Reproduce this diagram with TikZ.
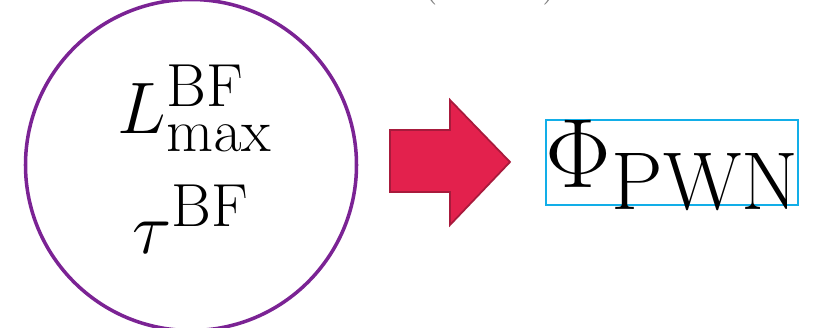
\documentclass[tikz,border=0pt]{standalone}
\usetikzlibrary{calc, positioning}

\begin{document}
\begin{tikzpicture}[scale=1, transform shape]
    % Define colours
    \definecolor{circleColour}{HTML}{7B2394}
    \definecolor{arrowFill}{HTML}{E3214D}
    \definecolor{arrowBorder}{HTML}{A81A3C}
    \definecolor{boxColour}{HTML}{12AEE8}

    % Fix the frame
    \useasboundingbox (0,0) rectangle (16.3,6.56);

    % Clipped label above
    \node[anchor=south, inner sep=0pt, text=gray, scale=2.2] (top) at (9.8,6.44) {$(\hspace{0.95cm})$};

    % Draw the circle with the parameters
    \node[draw=circleColour, line width=2pt, circle, minimum size=6.62cm] (params) at (3.82,3.26) {};
    \node[scale=1.67] (lmax) at (3.9,4.4) {\Huge $L^{\mathrm{BF}}_{\max}$};
    \node[scale=1.67] (tau) at (3.82,2.18) {\Huge $\tau^{\mathrm{BF}}$};

    % Define coordinates for the arrow
    \coordinate (A) at (7.8,2.72);
    \coordinate (B) at (7.8,3.96);
    \coordinate (C) at (9.0,3.96);
    \coordinate (D) at (9.0,4.56);
    \coordinate (E) at (10.2,3.32);
    \coordinate (F) at (9.0,2.06);
    \coordinate (G) at (9.0,2.72);

    % Draw the arrow
    \filldraw[fill=arrowFill, draw=arrowBorder, line width=1pt] (A) -- (B) -- (C) -- (D) -- (E) -- (F) -- (G) -- cycle;

    % Draw the result box
    \node[draw=boxColour, line width=1pt, inner sep=1pt, minimum width=5.04cm, minimum height=1.7cm] (phi) at (13.44,3.31) {};
    \node[scale=2.25] (phitext) at (13.46,3.27) {\Huge $\Phi_{\mathrm{PWN}}$};

\end{tikzpicture}
\end{document}
